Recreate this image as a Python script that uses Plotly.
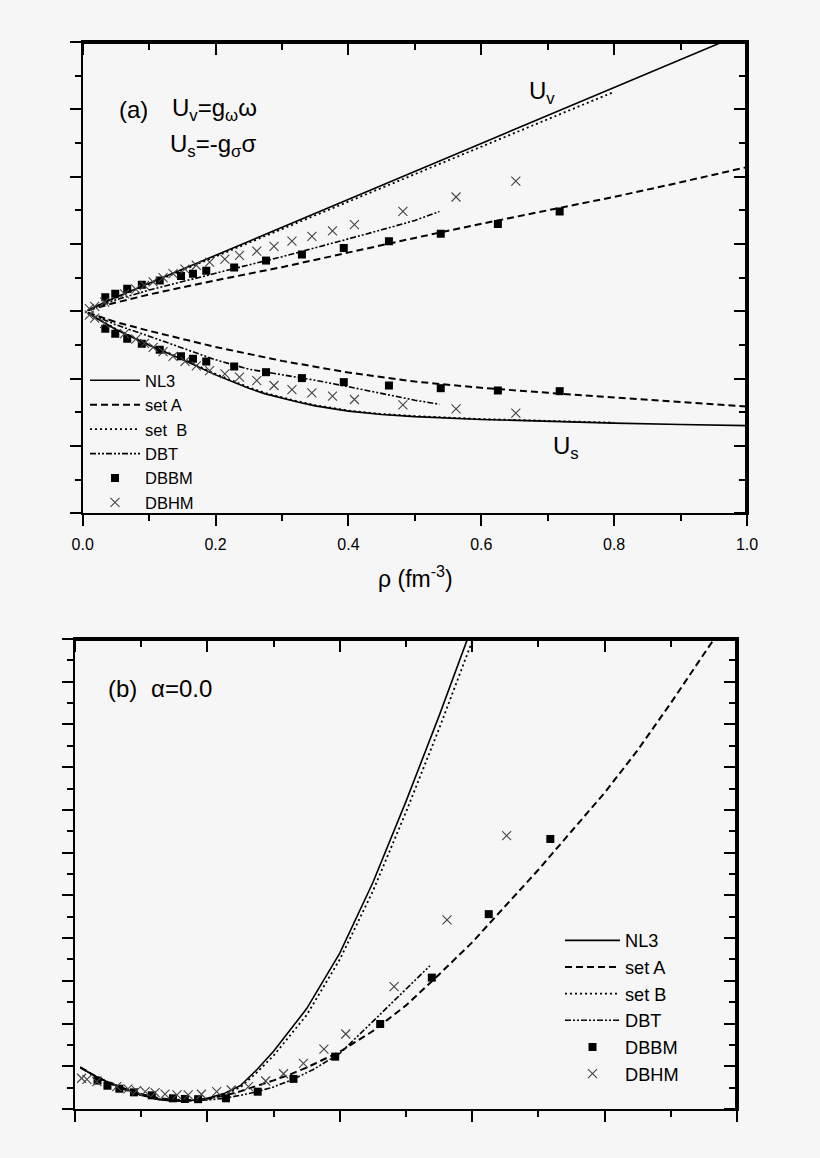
import plotly.graph_objects as go

# ---- panel (a): potentials vs density (MeV) ----
rho_nl3 = [0.008, 0.05, 0.1, 0.15, 0.2, 0.225, 0.25, 0.275, 0.3, 0.325, 0.35, 0.375, 0.4,
           0.45, 0.5, 0.6, 0.7, 0.8, 0.9, 1.0]
uv_nl3 = [10, 104, 208, 312, 415, 467, 519, 571, 623, 675, 727, 779, 831,
          935, 1038, 1246, 1454, 1662, 1869, 2077]
us_nl3 = [-15, -135, -252, -358, -472, -525, -572, -613, -646, -676, -702, -724, -741,
          -766, -782, -803, -818, -830, -840, -849]

rho_a = [0.008, 0.05, 0.1, 0.2, 0.3, 0.4, 0.5, 0.6, 0.7, 0.8, 0.9, 1.0]
uv_a = [8, 65, 125, 230, 328, 438, 545, 650, 748, 850, 958, 1071]
us_a = [-10, -80, -145, -265, -368, -455, -522, -568, -605, -640, -675, -708]

rho_b = [0.008, 0.05, 0.1, 0.15, 0.2, 0.225, 0.25, 0.275, 0.3, 0.325, 0.35, 0.375, 0.4,
         0.45, 0.5, 0.6, 0.7, 0.8]
uv_b = [10, 101, 203, 305, 406, 457, 508, 559, 610, 661, 712, 763, 814,
        916, 1018, 1222, 1425, 1630]
us_b = [-15, -132, -248, -352, -465, -518, -565, -606, -640, -670, -697, -719, -737,
        -762, -778, -800, -815, -827]

rho_dbt = [0.008, 0.05, 0.1, 0.15, 0.2, 0.25, 0.3, 0.35, 0.4, 0.45, 0.5, 0.537]
uv_dbt = [8, 85, 158, 222, 285, 345, 405, 470, 535, 605, 675, 741]
us_dbt = [-12, -100, -185, -270, -360, -430, -472, -512, -560, -610, -660, -690]

rho_dbbm = [0.034, 0.049, 0.067, 0.089, 0.116, 0.148, 0.166, 0.186, 0.228, 0.276,
            0.330, 0.393, 0.461, 0.539, 0.625, 0.718]
uv_dbbm = [105, 130, 167, 197, 229, 262, 279, 301, 325, 377, 422, 470, 521, 576, 648, 742]
us_dbbm = [-130, -167, -204, -241, -286, -333, -353, -373, -410, -452, -496, -526, -551, -571, -588, -593]

rho_dbhm = [0.010, 0.018, 0.033, 0.063, 0.080, 0.093, 0.106, 0.121, 0.136, 0.154, 0.171, 0.191,
            0.214, 0.236, 0.262, 0.288, 0.315, 0.345, 0.376, 0.409, 0.482, 0.562, 0.652]
uv_dbhm = [20, 37, 68, 130, 165, 192, 219, 250, 280, 314, 342, 366,
           388, 415, 447, 483, 522, 556, 598, 643, 742, 849, 967]
us_dbhm = [-28, -50, -90, -165, -207, -238, -268, -300, -335, -372, -405, -440,
           -464, -489, -514, -551, -581, -606, -630, -655, -695, -724, -756]

# ---- panel (b): energy per nucleon, alpha = 0 (MeV) ----
rho_e = [0.008, 0.03, 0.05, 0.075, 0.1, 0.125, 0.15, 0.175, 0.2, 0.225, 0.25, 0.275, 0.3,
         0.35, 0.4, 0.45, 0.5, 0.55, 0.6]
e_nl3 = [-0.5, -4.5, -7.5, -10.5, -13.5, -15.5, -16.3, -16.0, -15.0, -12.8, -9.0, -1.5, 7,
         27, 53, 86, 124, 164, 206]
e_b = [-0.5, -4.5, -7.5, -10.5, -13.5, -15.5, -16.3, -16.1, -15.3, -13.3, -9.8, -2.8, 5,
       24, 50, 82, 119, 158, 199]

rho_ea = [0.008, 0.03, 0.05, 0.075, 0.1, 0.125, 0.15, 0.175, 0.2, 0.225, 0.25, 0.275, 0.3,
          0.325, 0.35, 0.4, 0.45, 0.5, 0.55, 0.6, 0.65, 0.7, 0.75, 0.8, 0.85, 0.9, 0.95, 0.97]
e_a = [-0.5, -4.5, -7.5, -10.5, -13, -14.8, -15.7, -15.8, -15.2, -13.8, -11.7, -9.2, -6.6,
       -3.8, -0.6, 6.8, 16.5, 28.5, 43, 58, 75, 92, 110, 128, 148, 170, 193, 202]

rho_edbt = [0.008, 0.03, 0.05, 0.075, 0.1, 0.125, 0.15, 0.175, 0.2, 0.225, 0.25, 0.275,
            0.3, 0.33, 0.36, 0.4, 0.45, 0.5, 0.536]
e_dbt = [-0.5, -4.8, -7.8, -11, -13.5, -15.2, -16.0, -16.1, -15.8, -15.0, -13.6, -11.9,
         -9.7, -6.0, -1.5, 6, 21, 36, 47]

e_dbbm = [-6.7, -9.1, -10.5, -12.2, -13.6, -15.0, -15.3, -15.4, -15.0, -11.9, -5.9, 4.5,
          19.8, 41.5, 71.2, 106.4]
e_dbhm = [-5.6, -6.1, -7.2, -9.5, -10.6, -11.4, -11.9, -12.3, -13.0, -13.4, -13.4, -13.1,
          -11.9, -11.1, -9.5, -6.9, -3.5, 1.4, 8.0, 15.1, 37.3, 68.5, 108.0]

W, H = 820, 1158
BG = '#f6f6f6'
FONT = 'Liberation Sans, Arial, sans-serif'


def px(v):
    return v / W


def py(v):
    return 1 - v / H


def both(r, a, b):
    # upper and lower branch in a single trace
    return r + [None] + r, a + [None] + b


line_styles = {
    'NL3': dict(color='black', width=1.6, dash='solid'),
    'set A': dict(color='black', width=2, dash='7px,4px'),
    'set B': dict(color='black', width=1.8, dash='2px,3px'),
    'DBT': dict(color='black', width=1.6, dash='6px,2px,2px,2px,2px,2px'),
}
sq = dict(symbol='square', size=8, color='black')
cross = dict(symbol='x-thin-open', size=9, color='#444', line=dict(width=1.1, color='#444'))

fig = go.Figure()

# panel (a)
for name, r, a, b in [('NL3', rho_nl3, uv_nl3, us_nl3), ('set A', rho_a, uv_a, us_a),
                      ('set  B', rho_b, uv_b, us_b), ('DBT', rho_dbt, uv_dbt, us_dbt)]:
    x, y = both(r, a, b)
    fig.add_trace(go.Scatter(x=x, y=y, mode='lines', name=name,
                             line=line_styles[name.replace('  ', ' ')],
                             xaxis='x', yaxis='y', legend='legend'))
x, y = both(rho_dbbm, uv_dbbm, us_dbbm)
fig.add_trace(go.Scatter(x=x, y=y, mode='markers', name='DBBM', marker=sq,
                         xaxis='x', yaxis='y', legend='legend'))
x, y = both(rho_dbhm, uv_dbhm, us_dbhm)
fig.add_trace(go.Scatter(x=x, y=y, mode='markers', name='DBHM', marker=cross,
                         xaxis='x', yaxis='y', legend='legend'))

# panel (b)
for name, r, e in [('NL3', rho_e, e_nl3), ('set A', rho_ea, e_a),
                   ('set B', rho_e, e_b), ('DBT', rho_edbt, e_dbt)]:
    fig.add_trace(go.Scatter(x=r, y=e, mode='lines', name=name, line=line_styles[name],
                             xaxis='x2', yaxis='y2', legend='legend2'))
fig.add_trace(go.Scatter(x=rho_dbbm, y=e_dbbm, mode='markers', name='DBBM', marker=sq,
                         xaxis='x2', yaxis='y2', legend='legend2'))
fig.add_trace(go.Scatter(x=rho_dbhm, y=e_dbhm, mode='markers', name='DBHM', marker=cross,
                         xaxis='x2', yaxis='y2', legend='legend2'))

# thin helper strips just outside the top / right frame; their bottom / left axes
# sit on the frame and their outside ticks therefore point into the box
for xa, ya in [('x3', 'y3'), ('x4', 'y4'), ('x5', 'y5'), ('x6', 'y6')]:
    fig.add_trace(go.Scatter(x=[0.5], y=[0.5], xaxis=xa, yaxis=ya, mode='markers',
                             marker=dict(size=1, color=BG), showlegend=False))

dom_x1 = [px(82.7), px(747)]
dom_y1 = [py(513.3), py(42)]
dom_x2 = [px(75), px(737)]
dom_y2 = [py(1109), py(639)]


def minor(step):
    return dict(ticks='outside', ticklen=6, tickwidth=2, tickcolor='black', dtick=step,
                showgrid=False)


def axis(rng, step, sub, **kw):
    d = dict(range=rng, tick0=0, dtick=step, ticks='outside', ticklen=11,
             tickwidth=2, tickcolor='black', showgrid=False, zeroline=False,
             automargin=False, fixedrange=True, minor=minor(sub))
    d.update(kw)
    return d


def blank(dom, anchor):
    return dict(domain=dom, anchor=anchor, range=[0, 1], showline=False, ticks='',
                showticklabels=False, showgrid=False, zeroline=False, automargin=False,
                fixedrange=True)


frame = dict(showline=True, linewidth=2, linecolor='black', mirror=True)
# helper axes keep a line (it lies on the frame) so that they get drawn with their ticks
strip = dict(showline=True, linewidth=2, linecolor='black', showticklabels=False)

fig.update_layout(
    width=W, height=H, margin=dict(l=0, r=0, t=0, b=0),
    paper_bgcolor=BG, plot_bgcolor='rgba(0,0,0,0)',
    font=dict(family=FONT, color='black'),
    # panel (a)
    xaxis=axis([0, 1.0], 0.2, 0.1, domain=dom_x1, anchor='y', tickformat='.1f',
               tickfont=dict(size=16), ticklabelstandoff=4, **frame),
    yaxis=axis([-1500, 2000], 500, 250, domain=dom_y1, anchor='x',
               showticklabels=False, **frame),
    xaxis3=axis([0, 1.0], 0.2, 0.1, domain=dom_x1, anchor='y3', side='bottom', **strip),
    yaxis3=blank([py(42), py(30)], 'x3'),
    yaxis5=axis([-1500, 2000], 500, 250, domain=dom_y1, anchor='x5', side='left', **strip),
    xaxis5=blank([px(747), px(760)], 'y5'),
    # panel (b)
    xaxis2=axis([0, 1.0], 0.2, 0.1, domain=dom_x2, anchor='y2',
                showticklabels=False, **frame),
    yaxis2=axis([-20, 200], 20, 10, domain=dom_y2, anchor='x2',
                showticklabels=False, **frame),
    xaxis4=axis([0, 1.0], 0.2, 0.1, domain=dom_x2, anchor='y4', side='bottom', **strip),
    yaxis4=blank([py(639), py(627)], 'x4'),
    yaxis6=axis([-20, 200], 20, 10, domain=dom_y2, anchor='x6', side='left', **strip),
    xaxis6=blank([px(737), px(750)], 'y6'),
    legend=dict(x=px(85), y=py(363), xanchor='left', yanchor='top', bgcolor='rgba(0,0,0,0)',
                font=dict(size=16.5), itemwidth=50, tracegroupgap=0),
    legend2=dict(x=px(560), y=py(922), xanchor='left', yanchor='top', bgcolor='rgba(0,0,0,0)',
                 font=dict(size=18.2), itemwidth=55, tracegroupgap=0),
    showlegend=True,
)

big = dict(family=FONT, size=24, color='black')
notes = [
    ('(a)', 117, 110),
    ('U<sub>v</sub>=g<sub>ω</sub>ω', 170, 110),
    ('U<sub>s</sub>=-g<sub>σ</sub>σ', 168, 145),
    ('U<sub>v</sub>', 527, 93),
    ('U<sub>s</sub>', 551, 447),
    ('(b)', 106, 688),
    ('α=0.0', 149, 688),
]
for txt, xl, yc in notes:
    fig.add_annotation(text=txt, x=px(xl), y=py(yc), xref='paper', yref='paper',
                       xanchor='left', yanchor='middle', showarrow=False, font=big)
fig.add_annotation(text='ρ (fm<sup>-3</sup>)', x=px(415), y=py(577), xref='paper',
                   yref='paper', xanchor='center', yanchor='middle', showarrow=False,
                   font=dict(family=FONT, size=23, color='black'))

# the page's default body margin would shift the figure by 8 px
fig.write_html('out.html', config={'displayModeBar': False},
               post_script="document.body.style.margin='0px';"
                           "document.body.style.background='%s';" % BG)
